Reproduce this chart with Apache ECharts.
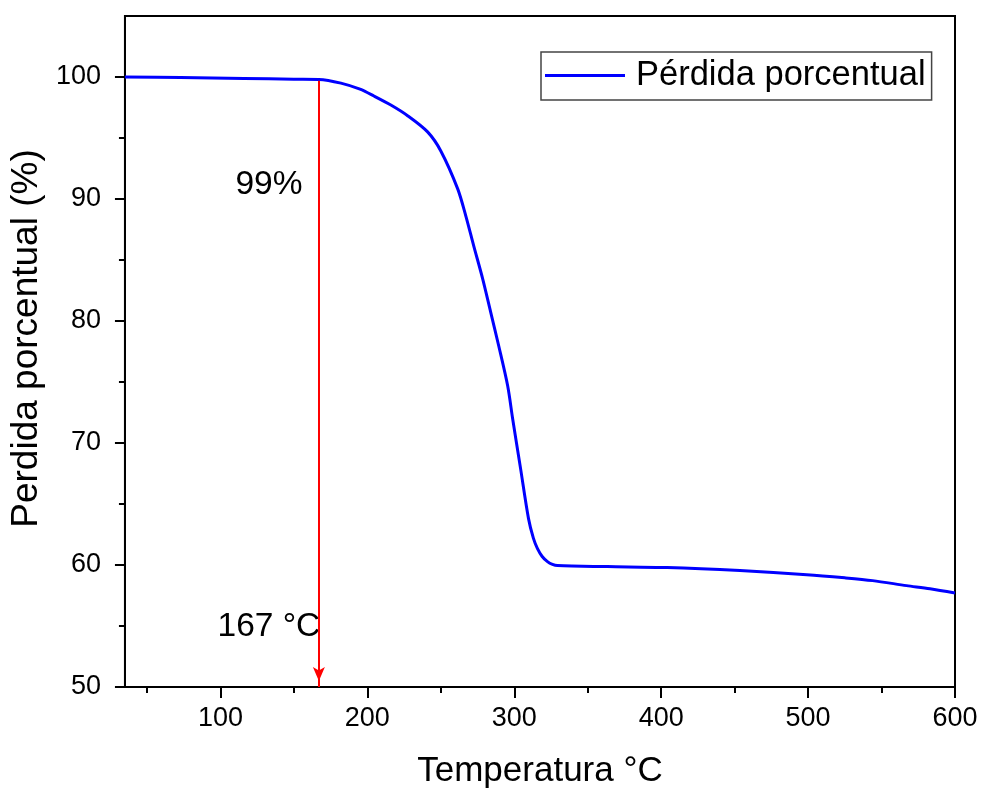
<!DOCTYPE html>
<html>
<head>
<meta charset="utf-8">
<script src="https://cdn.jsdelivr.net/npm/echarts@6/dist/echarts.min.js"></script>
<style>
html,body{margin:0;padding:0;background:#fff;}
#chart{width:982px;height:794px;}
</style>
</head>
<body>
<div id="chart"></div>
<script>
// Temperature (°C) and weight percentage
var temperature = [35, 73, 116, 150, 167, 182, 195, 204.5, 216, 227.6, 241, 250, 261.5, 267, 272.4, 278.5, 283.9, 289.4, 295.5, 298.9, 304.3, 309.7, 313, 315.8, 319, 322.6, 326, 329.4, 363.4, 404.1, 453.6, 499.1, 525, 543.9, 567, 583, 600];
var percentLoss = [100, 99.95, 99.88, 99.82, 99.8, 99.5, 99.0, 98.44, 97.7, 96.81, 95.5, 93.94, 90.83, 88.62, 86.16, 83.46, 80.75, 77.97, 74.69, 71.99, 67.9, 63.8, 62.2, 61.34, 60.7, 60.28, 60.05, 59.95, 59.87, 59.79, 59.54, 59.21, 58.95, 58.72, 58.31, 58.05, 57.7];

var xLabels = [100, 200, 300, 400, 500, 600];
var xMinor = [50, 150, 250, 350, 450, 550];
var yLabels = [50, 60, 70, 80, 90, 100];
var yMinor = [55, 65, 75, 85, 95];

var onsetTemp = 167;
var onsetValue = 99.7;
var annotationTexts = ['99%', '167 °C'];
var annotationX = [133, 133];
var annotationY = [91.2, 54.9];

var seriesName = 'Pérdida porcentual';
var xTitle = 'Temperatura °C';
var yTitle = 'Perdida porcentual (%)';

var FONT = '"Liberation Sans", Arial, sans-serif';

var lineData = temperature.map(function (t, i) { return [t, percentLoss[i]]; });
var annData = annotationTexts.map(function (s, i) { return { name: s, value: [annotationX[i], annotationY[i]] }; });

var chart = echarts.init(document.getElementById('chart'), null, { renderer: 'canvas' });

var axisCommon = {
  type: 'value',
  splitLine: { show: false }
};

chart.setOption({
  animation: false,
  backgroundColor: '#ffffff',
  grid: {
    left: 124, right: 27, top: 16, bottom: 105,
    show: true, borderColor: '#000', borderWidth: 2, backgroundColor: 'transparent'
  },
  legend: {
    left: 541, top: 52,
    data: [{ name: seriesName, icon: 'rect' }],
    itemWidth: 80, itemHeight: 3,
    padding: [6, 6, 7, 4],
    borderColor: '#444', borderWidth: 1.5,
    textStyle: { fontFamily: FONT, fontSize: 34.5, color: '#000', padding: [0, 0, 0, 6] }
  },
  xAxis: [
    Object.assign({}, axisCommon, {
      min: 35, max: 600,
      name: xTitle, nameLocation: 'middle', nameGap: 67,
      nameTextStyle: { fontFamily: FONT, fontSize: 35, color: '#000' },
      axisLine: { show: true, onZero: false, lineStyle: { color: '#000', width: 2 } },
      axisTick: { show: true, inside: false, length: 11, customValues: xLabels, lineStyle: { color: '#000', width: 2 } },
      axisLabel: { show: true, margin: 18, customValues: xLabels, fontFamily: FONT, fontSize: 27, color: '#000' }
    }),
    Object.assign({}, axisCommon, {
      min: 35, max: 600, position: 'bottom',
      axisLine: { show: false },
      axisTick: { show: true, inside: false, length: 6, customValues: xMinor, lineStyle: { color: '#000', width: 2 } },
      axisLabel: { show: false }
    })
  ],
  yAxis: [
    Object.assign({}, axisCommon, {
      min: 50, max: 105,
      name: yTitle, nameLocation: 'middle', nameGap: 70, nameRotate: 90,
      nameTextStyle: { fontFamily: FONT, fontSize: 37, color: '#000', padding: [0, 0, 0, 26] },
      axisLine: { show: true, onZero: false, lineStyle: { color: '#000', width: 2 } },
      axisTick: { show: true, inside: false, length: 10, customValues: yLabels, lineStyle: { color: '#000', width: 2 } },
      axisLabel: { show: true, margin: 24, customValues: yLabels, fontFamily: FONT, fontSize: 27, color: '#000' }
    }),
    Object.assign({}, axisCommon, {
      min: 50, max: 105, position: 'left',
      axisLine: { show: false },
      axisTick: { show: true, inside: false, length: 6, customValues: yMinor, lineStyle: { color: '#000', width: 2 } },
      axisLabel: { show: false }
    })
  ],
  series: [
    {
      name: seriesName,
      type: 'line',
      data: lineData,
      xAxisIndex: 0, yAxisIndex: 0,
      showSymbol: false,
      smooth: 0.3,
      color: '#0000ff',
      lineStyle: { color: '#0000ff', width: 3 },
      z: 3,
      markLine: {
        silent: true,
        symbol: ['none', 'arrow'],
        symbolSize: [9, 14],
        symbolOffset: [0, [0, 6]],
        label: { show: false },
        lineStyle: { color: '#ff0000', width: 2, type: 'solid' },
        data: [[{ coord: [onsetTemp, onsetValue] }, { coord: [onsetTemp, 50] }]]
      }
    },
    {
      name: 'annotations',
      type: 'scatter',
      data: annData,
      symbolSize: 0,
      silent: true,
      itemStyle: { opacity: 1 },
      label: {
        show: true, position: 'inside',
        formatter: function (p) { return p.name; },
        fontFamily: FONT, fontSize: 33.5, color: '#000', opacity: 1,
        textBorderWidth: 0, textShadowBlur: 0
      }
    }
  ]
});
</script>
</body>
</html>
